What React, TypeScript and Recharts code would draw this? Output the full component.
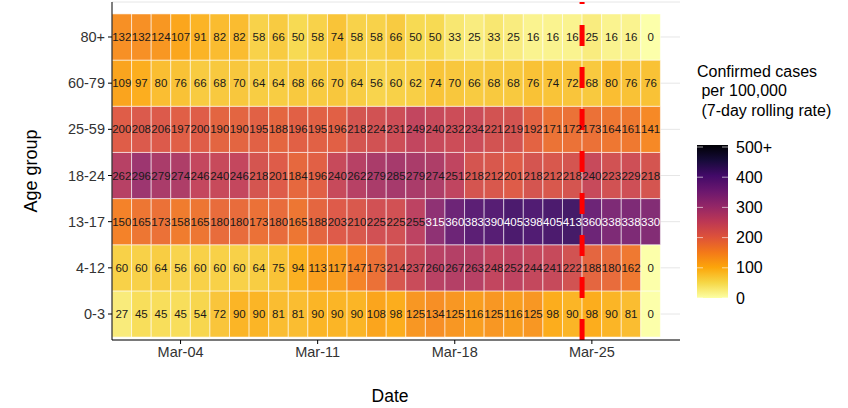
import React from "react";
import {
  ComposedChart,
  XAxis,
  YAxis,
  CartesianGrid,
  ReferenceArea,
  ReferenceLine,
} from "recharts";

// rows bottom -> top
const ageGroups = ["0-3", "4-12", "13-17", "18-24", "25-59", "60-79", "80+"];
const days = [
  1, 2, 3, 4, 5, 6, 7, 8, 9, 10, 11, 12, 13, 14, 15, 16, 17, 18, 19, 20, 21,
  22, 23, 24, 25, 26, 27, 28,
];
const dateTicks = [4, 11, 18, 25];
const dateLabels = ["Mar-04", "Mar-11", "Mar-18", "Mar-25"];
const cutoffDay = 24.5;

const rates0to3 = [27, 45, 45, 45, 54, 72, 90, 90, 81, 81, 90, 90, 90, 108, 98, 125, 134, 125, 116, 125, 116, 125, 98, 90, 98, 90, 81, 0];
const rates4to12 = [60, 60, 64, 56, 60, 60, 60, 64, 75, 94, 113, 117, 147, 173, 214, 237, 260, 267, 263, 248, 252, 244, 241, 222, 188, 180, 162, 0];
const rates13to17 = [150, 165, 173, 158, 165, 180, 180, 173, 180, 165, 188, 203, 210, 225, 225, 255, 315, 360, 383, 390, 405, 398, 405, 413, 360, 338, 338, 330];
const rates18to24 = [262, 296, 279, 274, 246, 240, 246, 218, 201, 184, 196, 240, 262, 279, 285, 279, 274, 251, 218, 212, 201, 218, 212, 218, 240, 223, 229, 218];
const rates25to59 = [200, 208, 206, 197, 200, 190, 190, 195, 188, 196, 195, 196, 218, 224, 231, 249, 240, 232, 234, 221, 219, 192, 171, 172, 173, 164, 161, 141];
const rates60to79 = [109, 97, 80, 76, 66, 68, 70, 64, 64, 68, 66, 70, 64, 56, 60, 62, 74, 70, 66, 68, 68, 76, 74, 72, 68, 80, 76, 76];
const rates80plus = [132, 132, 124, 107, 91, 82, 82, 58, 66, 50, 58, 74, 58, 58, 66, 50, 50, 33, 25, 33, 25, 16, 16, 16, 25, 16, 16, 0];

const rateRows = [rates0to3, rates4to12, rates13to17, rates18to24, rates25to59, rates60to79, rates80plus];

const legendValues = [0, 100, 200, 300, 400, 500];
const legendLabels = ["0", "100", "200", "300", "400", "500+"];

// inferno palette, dark -> light
const inferno = [
  "#000004", "#160b39", "#420a68", "#6a176e", "#932667", "#bc3754",
  "#dd513a", "#f37819", "#fca50a", "#f6d746", "#fcffa4",
];

const hexToRgb = (h: string) => [
  parseInt(h.slice(1, 3), 16),
  parseInt(h.slice(3, 5), 16),
  parseInt(h.slice(5, 7), 16),
];

// 0 -> pale yellow, 500+ -> black
const rateColor = (v: number) => {
  const t = 1 - Math.min(Math.max(v, 0), 500) / 500;
  const pos = t * (inferno.length - 1);
  const i = Math.min(Math.floor(pos), inferno.length - 2);
  const f = pos - i;
  const a = hexToRgb(inferno[i]);
  const b = hexToRgb(inferno[i + 1]);
  const c = a.map((x, k) => Math.round(x + (b[k] - x) * f));
  return `rgb(${c[0]},${c[1]},${c[2]})`;
};

const cells = rateRows.flatMap((rates, r) =>
  rates.map((rate, d) => ({ row: r + 1, day: days[d], rate }))
);

const font = "'Liberation Sans', Arial, sans-serif";

const YTitle = (props: any) => {
  const { viewBox } = props;
  const cx = viewBox.x + 19;
  const cy = viewBox.y + viewBox.height / 2;
  return (
    <text x={cx} y={cy} transform={`rotate(-90, ${cx}, ${cy})`} textAnchor="middle" dominantBaseline="central" fontSize={18} fill="#000">
      Age group
    </text>
  );
};

const XTitle = (props: any) => {
  const { viewBox } = props;
  return (
    <text x={viewBox.x + viewBox.width / 2 - 6} y={viewBox.y + 56} textAnchor="middle" dominantBaseline="central" fontSize={17.5} fill="#000">
      Date
    </text>
  );
};

const barTop = 147;
const barBottom = 298;
const legendY = (v: number) => barBottom - (v / 500) * (barBottom - barTop);

const ColorLegend = () => (
  <svg width={848} height={408} style={{ position: "absolute", left: 0, top: 0, pointerEvents: "none" }}>
    <defs>
      <linearGradient id="inferno" x1="0" y1="1" x2="0" y2="0">
        {inferno
          .slice()
          .reverse()
          .map((c, i) => (
            <stop key={i} offset={`${(i / (inferno.length - 1)) * 100}%`} stopColor={c} />
          ))}
      </linearGradient>
    </defs>
    <text fontSize={16} fill="#000" fontFamily={font}>
      <tspan x={697} y={77}>Confirmed cases</tspan>
      <tspan x={697} y={96} xmlSpace="preserve"> per 100,000</tspan>
      <tspan x={697} y={116} xmlSpace="preserve"> (7-day rolling rate)</tspan>
    </text>
    <rect x={697} y={barTop - 2} width={31} height={barBottom - barTop + 2} fill="url(#inferno)" />
    {legendValues.map((v, i) => (
      <g key={v}>
        <line x1={697} x2={703} y1={legendY(v)} y2={legendY(v)} stroke="#fff" strokeOpacity={0.6} />
        <line x1={722} x2={728} y1={legendY(v)} y2={legendY(v)} stroke="#fff" strokeOpacity={0.6} />
        <text x={736} y={legendY(v)} dominantBaseline="central" fontSize={16} fill="#000" fontFamily={font}>
          {legendLabels[i]}
        </text>
      </g>
    ))}
  </svg>
);

export default function App() {
  return (
    <div style={{ position: "absolute", left: 0, top: 0, width: 848, height: 408, background: "#fff", fontFamily: font }}>
      <ComposedChart width={848} height={408} data={cells} margin={{ top: 2, right: 168, bottom: 0, left: 12 }}>
        <CartesianGrid horizontal vertical={false} stroke="#e6e6e6" />
        <XAxis
          type="number"
          dataKey="day"
          domain={[0.5, 29.5]}
          ticks={dateTicks}
          allowDataOverflow
          tickFormatter={(d: number) => dateLabels[dateTicks.indexOf(d)]}
          height={68}
          tickSize={4}
          tickMargin={3}
          axisLine={{ stroke: "#000" }}
          tickLine={{ stroke: "#000" }}
          tick={{ fill: "#333", fontSize: 14.5 }}
          label={<XTitle />}
        />
        <YAxis
          type="number"
          dataKey="row"
          domain={[0.437, 7.758]}
          ticks={[1, 2, 3, 4, 5, 6, 7]}
          allowDataOverflow
          tickFormatter={(r: number) => ageGroups[r - 1]}
          width={100}
          tickSize={4}
          tickMargin={3}
          axisLine={{ stroke: "#000" }}
          tickLine={{ stroke: "#000" }}
          tick={{ fill: "#333", fontSize: 14.5 }}
          label={<YTitle />}
        />
        {cells.map((c) => (
          <ReferenceArea
            key={`${c.row}-${c.day}`}
            x1={c.day - 0.5}
            x2={c.day + 0.5}
            y1={c.row - 0.5}
            y2={c.row + 0.5}
            fill={rateColor(c.rate)}
            fillOpacity={0.93}
            stroke="#ffffff"
            strokeOpacity={0.7}
            strokeWidth={0.8}
            ifOverflow="visible"
            label={{
              value: c.rate,
              position: "center",
              fontSize: 11.5,
              fill: c.rate > 300 ? "#ffffff" : "#1a1a1a",
            }}
          />
        ))}
        <ReferenceLine x={cutoffDay} stroke="#ff0000" strokeWidth={5} strokeDasharray="21 21" />
      </ComposedChart>
      <ColorLegend />
    </div>
  );
}
